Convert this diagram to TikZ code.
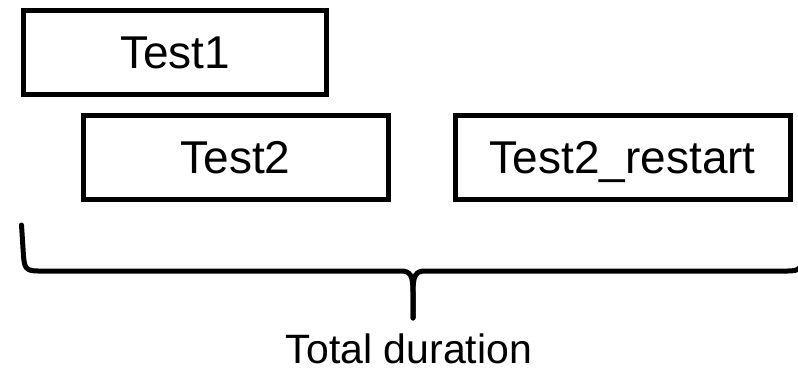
\documentclass[tikz,border=0pt]{standalone}
\usepackage{fontspec}
\setmainfont{Liberation Sans}
\usepackage{tikz}

\begin{document}
\begin{tikzpicture}[x=1pt,y=-1pt,
  testbox/.style={draw,line width=5pt,inner sep=0pt,minimum height=84pt,
    text height=32pt,text depth=0pt,font=\fontsize{46}{50}\selectfont},
  bracepath/.style={line width=5pt,line cap=round}]
\useasboundingbox (0,0) rectangle (798,374);
\clip (0,0) rectangle (798,374);

\node[testbox,minimum width=303.5pt] (test1) at (175,52.25){Test1};
\node[testbox,minimum width=305pt] (test2) at (235.5,157.5){Test2};
\node[testbox,minimum width=334.5pt] (restart) at (622.75,157.5){Test2\_restart};

%brace under the tests
\coordinate (bl) at (21.5,225);
\coordinate (tip) at (413,318);
\coordinate (br) at (804.5,225);
\draw[bracepath] (bl) -- (23.5,256) .. controls (24.5,268) and (26,271) .. (38,271) -- (401,271) .. controls (410,271) and (413,275) .. (413,292) -- (tip);
\draw[bracepath] (tip) -- (413,292) .. controls (413,275) and (416,271) .. (425,271) -- (788,271) .. controls (800,271) and (801.5,268) .. (802.5,256) -- (br);

\node[anchor=base,inner sep=0pt,font=\fontsize{41}{46}\selectfont] (total) at (409,363){Total duration};
\end{tikzpicture}
\end{document}
